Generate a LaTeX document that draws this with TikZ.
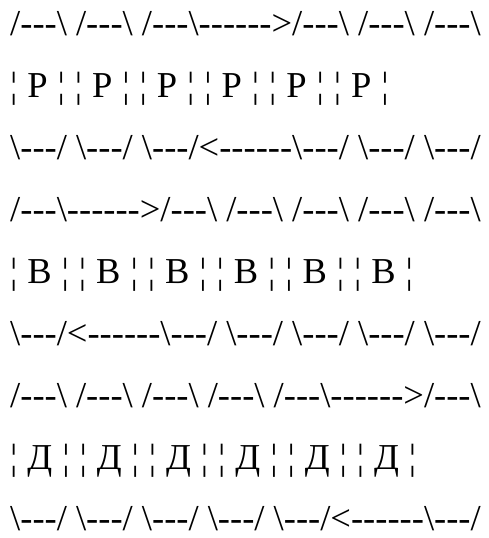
\documentclass[tikz,border=0pt]{standalone}
\usepackage{fontspec}
\defaultfontfeatures{}
\newfontfamily\asc{Liberation Serif}
\newcommand{\bs}{\textbackslash}
\tikzset{row/.style={anchor=base west, inner sep=0pt, font=\asc\fontsize{36.5}{40}\selectfont},
  lrow/.style={row, execute at begin node={\spaceskip=9.95pt\relax}}}
\begin{document}
\begin{tikzpicture}[x=1pt,y=1pt]
\useasboundingbox (0,0) rectangle (488,538);
\frenchspacing
\node[row] (r1) at (10,538-36)  {/---\bs{} /---\bs{} /---\bs------>/---\bs{} /---\bs{} /---\bs};
\node[lrow] (r2) at (10,538-98)  {¦ Р ¦ ¦ Р ¦ ¦ Р ¦ ¦ Р ¦ ¦ Р ¦ ¦ Р ¦};
\node[row] (r3) at (10,538-160) {\bs---/ \bs---/ \bs---/<------\bs---/ \bs---/ \bs---/};
\node[row] (r4) at (10,538-222) {/---\bs------>/---\bs{} /---\bs{} /---\bs{} /---\bs{} /---\bs};
\node[lrow] (r5) at (10,538-284) {¦ В ¦ ¦ В ¦ ¦ В ¦ ¦ В ¦ ¦ В ¦ ¦ В ¦};
\node[row] (r6) at (10,538-346) {\bs---/<------\bs---/ \bs---/ \bs---/ \bs---/ \bs---/};
\node[row] (r7) at (10,538-408) {/---\bs{} /---\bs{} /---\bs{} /---\bs{} /---\bs------>/---\bs};
\node[lrow] (r8) at (10,538-470) {¦ Д ¦ ¦ Д ¦ ¦ Д ¦ ¦ Д ¦ ¦ Д ¦ ¦ Д ¦};
\node[row] (r9) at (10,538-531) {\bs---/ \bs---/ \bs---/ \bs---/ \bs---/<------\bs---/};
\end{tikzpicture}
\end{document}
